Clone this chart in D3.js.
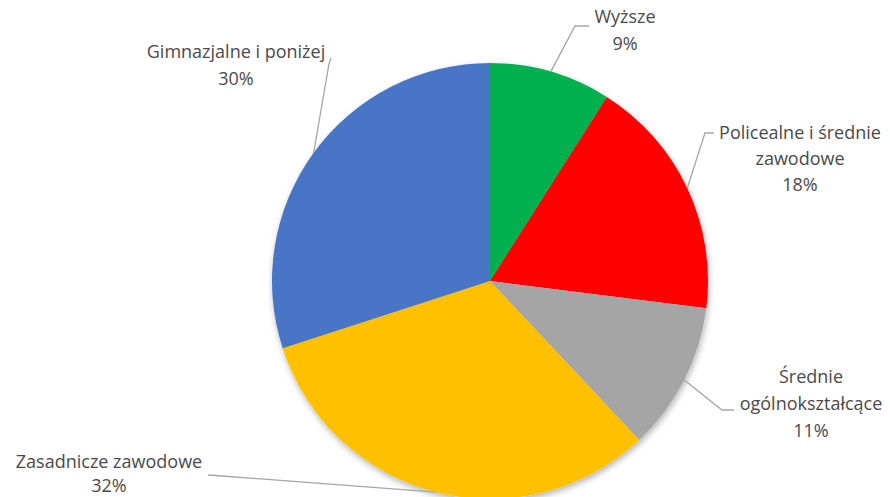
<!DOCTYPE html>
<html>
<head>
<meta charset="utf-8">
<script src="https://cdn.jsdelivr.net/npm/d3@7"></script>
<style>
  body { margin: 0; background: #fff; }
  svg { display: block; font-family: 'Open Sans', sans-serif; }
</style>
</head>
<body>
<div id="chart"></div>
<script>
// data
let categories = ['Wyższe', 'Policealne i średnie zawodowe', 'Średnie ogólnokształcące', 'Zasadnicze zawodowe', 'Gimnazjalne i poniżej']
let values = [9, 18, 11, 32, 30]
let labelLines = [
    ['Wyższe', '9%'],
    ['Policealne i średnie', 'zawodowe', '18%'],
    ['Średnie', 'ogólnokształcące', '11%'],
    ['Zasadnicze zawodowe', '32%'],
    ['Gimnazjalne i poniżej', '30%']
]
let colors = ['#00b050', '#ff0000', '#a5a5a5', '#ffc000', '#4a74c6']

// layout for the labels: text centre x, first baseline y, line gap, elbow of the leader, end of the leader
let labelLayout = [
    { x: 625, y: 23, gap: 27, elbow: [575, 26], end: [589, 26] },
    { x: 800, y: 139, gap: 26, elbow: [705, 133], end: [714, 133] },
    { x: 811, y: 383, gap: 27, elbow: [722, 410], end: [734, 410] },
    { x: 109, y: 468, gap: 24, elbow: [222, 476], end: [208, 475] },
    { x: 236, y: 58, gap: 27, elbow: [329, 64], end: [331, 58] }
]

let svgWidth = 890,
    svgHeight = 497,
    cx = 490,
    cy = 281,
    radius = 218

let svg = d3.select('#chart')
    .append('svg')
    .attr('width', svgWidth)
    .attr('height', svgHeight)

let defs = svg.append('defs')
let filter = defs.append('filter')
    .attr('id', 'shadow')
    .attr('x', '-20%').attr('y', '-20%')
    .attr('width', '140%').attr('height', '140%')
filter.append('feDropShadow')
    .attr('dx', 1)
    .attr('dy', 3)
    .attr('stdDeviation', 3)
    .attr('flood-color', '#000')
    .attr('flood-opacity', 0.3)

let data = categories.map((c, i) => ({ name: c, value: values[i], color: colors[i], lines: labelLines[i], pos: labelLayout[i] }))

let pie = d3.pie()
    .value(d => d.value)
    .sort(null)

let arc = d3.arc()
    .innerRadius(0)
    .outerRadius(radius)

// arc at the rim, used for where the leader lines touch the pie
let rimArc = d3.arc()
    .innerRadius(radius)
    .outerRadius(radius)

let g = svg.append('g')
    .attr('transform', `translate(${cx},${cy})`)

let arcs = pie(data)

g.append('g')
    .attr('filter', 'url(#shadow)')
    .selectAll('path')
    .data(arcs)
    .enter().append('path')
    .attr('d', arc)
    .attr('fill', d => d.data.color)

// leader lines
svg.append('g')
    .selectAll('polyline')
    .data(arcs)
    .enter().append('polyline')
    .attr('fill', 'none')
    .attr('stroke', '#a6a6a6')
    .attr('stroke-width', 1.3)
    .attr('points', d => {
        let c = rimArc.centroid(d)
        let p = d.data.pos
        return [[c[0] + cx, c[1] + cy], p.elbow, p.end].map(q => q.join(',')).join(' ')
    })

// labels
let labels = svg.append('g')
    .selectAll('text')
    .data(arcs)
    .enter().append('text')
    .attr('text-anchor', 'middle')
    .attr('fill', '#4a4a4a')
    .attr('font-size', '18px')
    .attr('x', d => d.data.pos.x)
    .attr('y', d => d.data.pos.y)

labels.selectAll('tspan')
    .data(d => d.data.lines.map(l => ({ text: l, x: d.data.pos.x, gap: d.data.pos.gap })))
    .enter().append('tspan')
    .attr('x', d => d.x)
    .attr('dy', (d, i) => i === 0 ? 0 : d.gap)
    .text(d => d.text)
</script>
</body>
</html>
